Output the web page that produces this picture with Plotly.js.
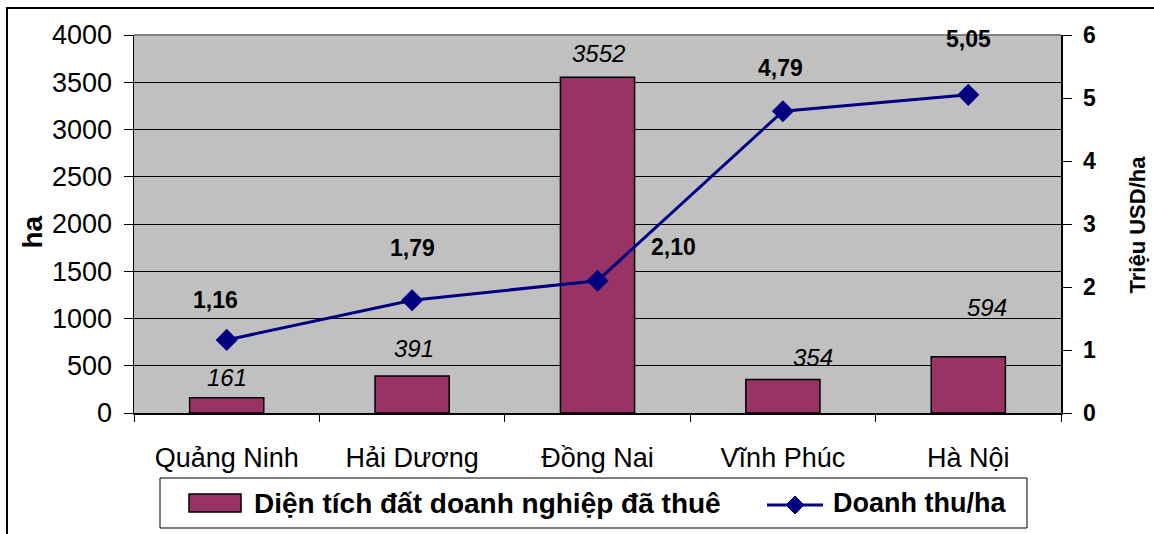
<!DOCTYPE html>
<html>
<head>
<meta charset="utf-8">
<script src="https://cdn.plot.ly/plotly-3.0.1.min.js"></script>
<style>
html,body{margin:0;padding:0;background:#fff;}
#chart{width:1154px;height:534px;}
</style>
</head>
<body>
<div id="chart"></div>
<script>
const categories = ["Quảng Ninh", "Hải Dương", "Đồng Nai", "Vĩnh Phúc", "Hà Nội"];
const areaHa = [161, 391, 3552, 354, 594];
const revenuePerHa = [1.16, 1.79, 2.10, 4.79, 5.05];
const areaLabels = ["161", "391", "3552", "354", "594"];
const revenueLabels = ["1,16", "1,79", "2,10", "4,79", "5,05"];
const seriesNames = ["Diện tích đất doanh nghiệp đã thuê", "Doanh thu/ha"];
const leftTicks = [0, 500, 1000, 1500, 2000, 2500, 3000, 3500, 4000];
const rightTicks = [0, 1, 2, 3, 4, 5, 6];

const FONT = "Liberation Sans, Arial, sans-serif";
const BAR = "#993366";
const LINE = "#000080";

const bars = {
  type: "bar", x: categories, y: areaHa, name: seriesNames[0],
  marker: {color: BAR, line: {color: "#000", width: 1.5}},
  width: 0.4, yaxis: "y", showlegend: false, hoverinfo: "x+y"
};
const line = {
  type: "scatter", mode: "lines+markers", x: categories, y: revenuePerHa,
  name: seriesNames[1], yaxis: "y2", showlegend: false,
  line: {color: LINE, width: 3},
  marker: {symbol: "diamond", size: 17, color: LINE}
};

// label offsets (px) relative to data point
const barShift = [[0, 20], [2, 28], [1, 24], [30, 22], [19, 49]];
const lineShift = [[-11, 40], [0, 52], [76, 34], [-2, 43], [0, 56]];

const annotations = [];
categories.forEach((c, i) => {
  annotations.push({
    x: c, y: areaHa[i], xref: "x", yref: "y", text: areaLabels[i],
    showarrow: false, xshift: barShift[i][0], yshift: barShift[i][1],
    font: {family: FONT, size: 24, color: "#000", style: "italic"}
  });
  annotations.push({
    x: c, y: revenuePerHa[i], xref: "x", yref: "y2", text: "<b>" + revenueLabels[i] + "</b>",
    showarrow: false, xshift: lineShift[i][0], yshift: lineShift[i][1],
    font: {family: FONT, size: 23, color: "#000"}
  });
});

// axis titles
annotations.push({xref: "paper", yref: "paper", x: -0.109, y: 0.48, xanchor: "center", yanchor: "middle",
  text: "<b>ha</b>", textangle: -90, showarrow: false, font: {family: FONT, size: 28, color: "#000"}});
annotations.push({xref: "paper", yref: "paper", x: 1.0825, y: 0.5, xanchor: "center", yanchor: "middle",
  text: "<b>Triệu USD/ha</b>", textangle: -90, showarrow: false, font: {family: FONT, size: 22, color: "#000"}});

// custom legend (paper coords; plot area 134..1061 x, 35..413 y)
const W = 927, H = 378, L = 134, T = 35;
const px = v => (v - L) / W;
const py = v => (T + H - v) / H;
annotations.push({xref: "paper", yref: "paper", x: px(252), y: py(503), xanchor: "left", yanchor: "middle",
  text: "<b>" + seriesNames[0] + "</b>", showarrow: false, font: {family: FONT, size: 28, color: "#000"}});
annotations.push({xref: "paper", yref: "paper", x: px(831), y: py(503), xanchor: "left", yanchor: "middle",
  text: "<b>" + seriesNames[1] + "</b>", showarrow: false, font: {family: FONT, size: 27, color: "#000"}});

const shapes = [
  // outer frame
  {type: "rect", xref: "paper", yref: "paper", x0: px(7), x1: px(1200), y0: py(8), y1: py(600),
   line: {color: "#000", width: 2}, fillcolor: "rgba(0,0,0,0)", layer: "below"},
  // top border of plot area
  {type: "line", xref: "paper", yref: "paper", x0: 0, x1: 1, y0: 1, y1: 1, line: {color: "#808080", width: 2}},
  // legend box
  {type: "rect", xref: "paper", yref: "paper", x0: px(160), x1: px(1027), y0: py(478), y1: py(528),
   line: {color: "#000", width: 1}, fillcolor: "#fff"},
  // bar swatch
  {type: "rect", xref: "paper", yref: "paper", x0: px(189), x1: px(241), y0: py(494), y1: py(512),
   line: {color: "#000", width: 1.5}, fillcolor: BAR},
  // line swatch
  {type: "line", xref: "paper", yref: "paper", x0: px(767), x1: px(823), y0: py(505), y1: py(505),
   line: {color: LINE, width: 3}},
  {type: "path", xref: "paper", yref: "paper",
   path: `M ${px(795)} ${py(496)} L ${px(804)} ${py(505)} L ${px(795)} ${py(514)} L ${px(786)} ${py(505)} Z`,
   fillcolor: LINE, line: {color: LINE, width: 1}}
];

const layout = {
  width: 1154, height: 534,
  margin: {l: 134, r: 93, t: 35, b: 121, pad: 0},
  paper_bgcolor: "#fff", plot_bgcolor: "#c0c0c0",
  font: {family: FONT, color: "#000"},
  showlegend: false, bargap: 0.6,
  xaxis: {
    type: "category", tickfont: {family: FONT, size: 27, color: "#000"},
    showline: true, linecolor: "#000", linewidth: 1.5,
    ticks: "outside", tickson: "boundaries", ticklen: 7, tickcolor: "#000", tickwidth: 1,
    ticklabelstandoff: 20,
    showgrid: false, zeroline: false, fixedrange: true
  },
  yaxis: {
    range: [0, 4000], tickvals: leftTicks, ticktext: leftTicks.map(String),
    tickfont: {family: FONT, size: 27, color: "#000"},
    showline: true, linecolor: "#000", linewidth: 1.5,
    ticks: "outside", ticklen: 9, tickcolor: "#000", tickwidth: 1,
    ticklabelstandoff: 6,
    showgrid: true, gridcolor: "#000", gridwidth: 1, zeroline: false, fixedrange: true
  },
  yaxis2: {
    range: [0, 6], overlaying: "y", side: "right",
    tickvals: rightTicks, ticktext: rightTicks.map(v => "<b>" + v + "</b>"),
    tickfont: {family: FONT, size: 23, color: "#000"},
    showline: true, linecolor: "#000", linewidth: 1.5,
    ticks: "outside", ticklen: 9, tickcolor: "#000", tickwidth: 1,
    ticklabelstandoff: 7,
    showgrid: false, zeroline: false, fixedrange: true
  },
  annotations: annotations,
  shapes: shapes
};

Plotly.newPlot("chart", [bars, line], layout, {displayModeBar: false, staticPlot: true});
</script>
</body>
</html>
